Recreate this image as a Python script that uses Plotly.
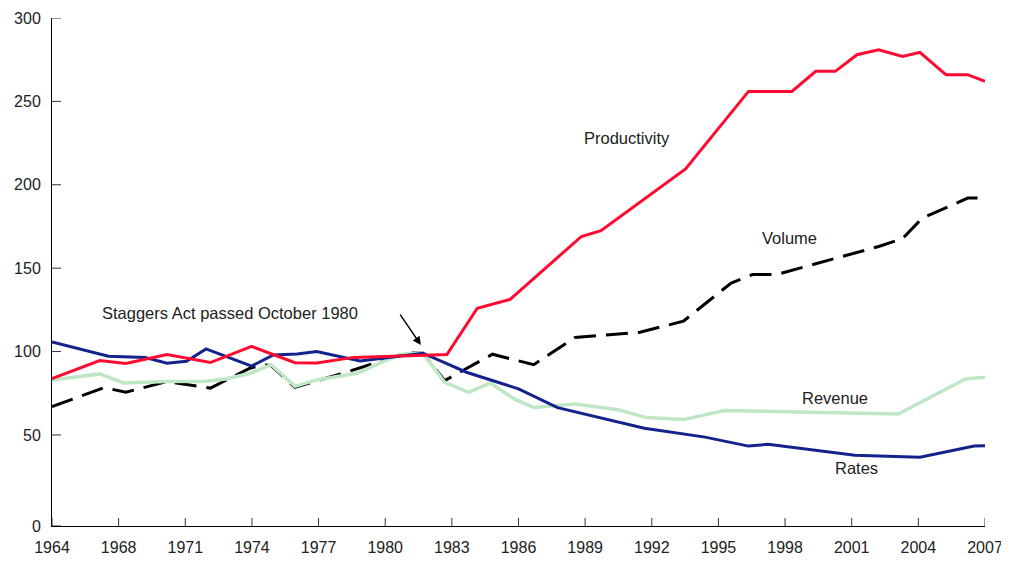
import plotly.graph_objects as go

# ---- data ----
prod_x = [1964, 1966.2, 1967.4, 1969.3, 1971.3, 1973.2, 1975.2, 1976.2, 1977.9, 1980.0, 1982.2,
          1983.6, 1985.1, 1988.4, 1989.3, 1993.2, 1996.1, 1998.1, 1999.2, 2000.1, 2001.1,
          2002.1, 2003.2, 2004.0, 2005.2, 2006.2, 2007]
prod_y = [83.8, 94.6, 92.8, 98.2, 93.4, 103.1, 93.3, 93.2, 96.5, 97.5, 98.2,
          126.0, 131.2, 169.0, 172.5, 209.5, 256.0, 256.0, 268.0, 268.0, 278.0,
          281.0, 277.0, 279.4, 266.0, 266.0, 262.0]

vol_x = [1964, 1966.4, 1967.4, 1969.3, 1971.3, 1973.1, 1973.7, 1974.1, 1975.2, 1977.3, 1979.4,
         1980.3, 1981.1, 1982.1, 1984.3, 1986.2, 1988.1, 1991.1, 1993.1, 1995.3, 1996.3,
         1997.4, 2002.1, 2003.2, 2004.1, 2006.2, 2007]
vol_y = [67.0, 78.4, 75.6, 82.0, 78.1, 89.9, 92.0, 91.6, 78.6, 86.6, 95.2,
         99.1, 99.0, 82.6, 98.4, 92.1, 108.4, 111.6, 118.2, 141.1, 146.2,
         146.2, 163.0, 167.7, 179.9, 192.0, 192.0]

rev_x = [1964, 1966.2, 1967.3, 1969.3, 1971.1, 1972.0, 1973.1, 1974.1, 1975.2, 1976.2, 1978.1,
         1979.3, 1980.2, 1981.1, 1982.1, 1983.2, 1984.2, 1985.3, 1986.2, 1988.1, 1990.1,
         1991.4, 1993.1, 1995.0, 2003.0, 2006.1, 2007]
rev_y = [82.9, 86.6, 81.2, 82.0, 82.2, 83.6, 86.8, 92.1, 79.1, 83.0, 87.1,
         94.3, 98.6, 99.0, 81.6, 75.6, 81.1, 71.6, 66.4, 68.6, 65.1,
         60.4, 59.2, 64.6, 62.6, 83.6, 84.6]

rate_x = [1964, 1966.6, 1968.3, 1969.3, 1970.2, 1971.1, 1973.2, 1974.2, 1975.3, 1976.2, 1978.2,
          1979.3, 1981.1, 1983.1, 1985.5, 1987.3, 1991.3, 1994.1, 1996.1, 1997.0, 2001.0,
          2004.0, 2006.5, 2007]
rate_y = [105.8, 97.2, 96.4, 93.0, 94.2, 101.6, 91.3, 98.0, 98.6, 100.0, 94.3,
          96.1, 99.0, 87.6, 77.6, 66.4, 54.0, 48.7, 43.3, 44.4, 37.8,
          36.6, 43.3, 43.5]

x_start, x_end = 1964, 2007
y_bottom, y_top = -4.6, 300
x_tick_labels = ["1964", "1968", "1971", "1974", "1977", "1980", "1983", "1986",
                 "1989", "1992", "1995", "1998", "2001", "2004", "2007"]
y_tick_labels = ["0", "50", "100", "150", "200", "250", "300"]
y_tick_vals = [y_bottom, 50, 100, 150, 200, 250, 300]

n_int = len(x_tick_labels) - 1
x_tick_vals = [x_start + (x_end - x_start) * k / n_int for k in range(n_int + 1)]

RED = "#ff0a30"
BLUE = "#14238c"
GREEN = "#bfe6c5"
FONT = "Liberation Sans, Arial, sans-serif"

fig = go.Figure()
fig.add_trace(go.Scatter(x=vol_x, y=vol_y, mode="lines",
                         line=dict(color="black", width=3, dash="22px,10px"), name="Volume"))
fig.add_trace(go.Scatter(x=rev_x, y=rev_y, mode="lines",
                         line=dict(color=GREEN, width=3.5), name="Revenue"))
fig.add_trace(go.Scatter(x=rate_x, y=rate_y, mode="lines",
                         line=dict(color=BLUE, width=3), name="Rates"))
fig.add_trace(go.Scatter(x=prod_x, y=prod_y, mode="lines",
                         line=dict(color=RED, width=3), name="Productivity"))

# crossing tick marks
for tv in x_tick_vals:
    fig.add_shape(type="line", xref="x", yref="y", x0=tv, x1=tv,
                  ysizemode="pixel", yanchor=y_bottom, y0=-7, y1=8,
                  line=dict(color="#333", width=1))
for tv in y_tick_vals:
    fig.add_shape(type="line", xref="x", yref="y", y0=tv, y1=tv,
                  xsizemode="pixel", xanchor=x_start, x0=-7, x1=9,
                  line=dict(color="#333", width=1))

lab = dict(font=dict(family=FONT, size=16.5, color="#222"), showarrow=False)
fig.add_annotation(x=1990.5, y=228, text="Productivity", **lab)
fig.add_annotation(x=1998.0, y=168, text="Volume", **lab)
fig.add_annotation(x=2000.1, y=72, text="Revenue", **lab)
fig.add_annotation(x=2001.1, y=30, text="Rates", **lab)
fig.add_annotation(x=1966.2, y=123, text="Staggers Act passed October 1980",
                   xanchor="left", **lab)
fig.add_annotation(x=1981.0, y=104, ax=1980.0, ay=123, xref="x", yref="y",
                   axref="x", ayref="y", text="", showarrow=True,
                   arrowhead=2, arrowsize=1.1, arrowwidth=1.5, arrowcolor="black")

axis_common = dict(showgrid=False, zeroline=False, automargin=False)
tfont = dict(family=FONT, size=16, color="#222")
fig.update_layout(
    width=1001, height=556,
    margin=dict(l=44, r=24, t=10, b=38),
    paper_bgcolor="white", plot_bgcolor="white",
    showlegend=False,
    font=dict(family=FONT, size=16, color="#222"),
    xaxis=dict(range=[x_start, x_end], tickvals=x_tick_vals, ticktext=x_tick_labels,
               ticks="outside", ticklen=7, tickcolor="rgba(0,0,0,0)", tickwidth=1,
               showline=True, linecolor="black", linewidth=1,
               tickfont=tfont, **axis_common),
    yaxis=dict(range=[y_bottom, y_top], tickvals=y_tick_vals, ticktext=y_tick_labels,
               ticks="outside", ticklen=7, tickcolor="rgba(0,0,0,0)", tickwidth=1,
               showline=True, linecolor="black", linewidth=1,
               tickfont=tfont, **axis_common),
)

fig.write_html("out.html")
